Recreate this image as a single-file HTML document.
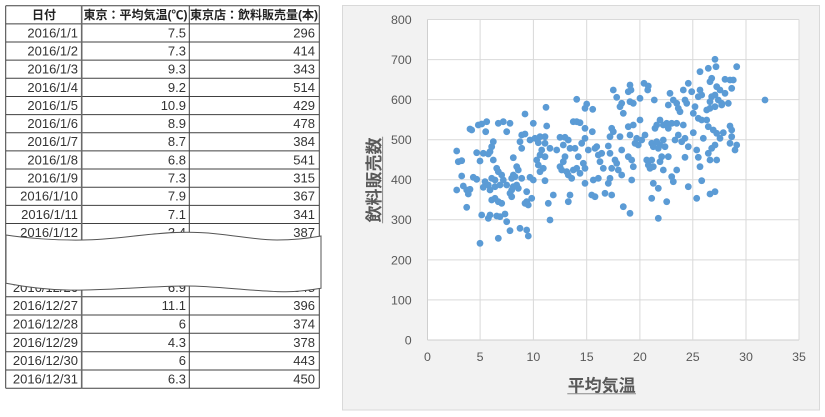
<!DOCTYPE html>
<html><head><meta charset="utf-8">
<style>
html,body{margin:0;padding:0;background:#fff;}
svg{display:block;}
.t{font-family:"Liberation Sans","Noto Sans CJK JP",sans-serif;font-size:13px;fill:#333;}
.h{font-family:"Liberation Sans","Noto Sans CJK JP",sans-serif;font-size:12px;font-weight:bold;fill:#222;}
.ax{font-family:"Liberation Sans",sans-serif;font-size:12.4px;fill:#595959;}
.ttl{font-family:"Liberation Sans","Noto Sans CJK JP",sans-serif;font-size:17px;font-weight:bold;fill:#595959;}
</style></head><body>
<svg width="825" height="417" viewBox="0 0 825 417" xmlns="http://www.w3.org/2000/svg">
<!-- TABLE -->
<g stroke="#404040" stroke-width="1" fill="none">
<line x1="5.7" y1="5.7" x2="319.3" y2="5.7"/>
<line x1="5.7" y1="23.85" x2="319.3" y2="23.85"/>
<line x1="5.7" y1="42" x2="319.3" y2="42"/>
<line x1="5.7" y1="60.15" x2="319.3" y2="60.15"/>
<line x1="5.7" y1="78.3" x2="319.3" y2="78.3"/>
<line x1="5.7" y1="96.45" x2="319.3" y2="96.45"/>
<line x1="5.7" y1="114.6" x2="319.3" y2="114.6"/>
<line x1="5.7" y1="132.75" x2="319.3" y2="132.75"/>
<line x1="5.7" y1="150.9" x2="319.3" y2="150.9"/>
<line x1="5.7" y1="169.05" x2="319.3" y2="169.05"/>
<line x1="5.7" y1="187.2" x2="319.3" y2="187.2"/>
<line x1="5.7" y1="205.35" x2="319.3" y2="205.35"/>
<line x1="5.7" y1="223.5" x2="319.3" y2="223.5"/>
<line x1="5.7" y1="241.6" x2="319.3" y2="241.6"/>
<line x1="5.7" y1="278.4" x2="319.3" y2="278.4"/>
<line x1="5.7" y1="296.7" x2="319.3" y2="296.7"/>
<line x1="5.7" y1="315" x2="319.3" y2="315"/>
<line x1="5.7" y1="333.3" x2="319.3" y2="333.3"/>
<line x1="5.7" y1="351.7" x2="319.3" y2="351.7"/>
<line x1="5.7" y1="370" x2="319.3" y2="370"/>
<line x1="5.7" y1="388.3" x2="319.3" y2="388.3"/>
<line x1="5.7" y1="5.7" x2="5.7" y2="388.3"/>
<line x1="189.3" y1="5.7" x2="189.3" y2="388.3"/>
<line x1="319.3" y1="5.7" x2="319.3" y2="388.3"/>
</g>
<line x1="81.7" y1="5.7" x2="81.7" y2="388.3" stroke="#6a6a6a" stroke-width="1.6"/>
<text class="h" x="44" y="19" text-anchor="middle">日付</text>
<text class="h" x="135.5" y="19" text-anchor="middle">東京：平均気温(℃)</text>
<text class="h" x="254" y="19" text-anchor="middle">東京店：飲料販売量(本)</text>
<g class="t">
<text x="78" y="37.3" text-anchor="end">2016/1/1</text><text x="186" y="37.3" text-anchor="end">7.5</text><text x="315" y="37.3" text-anchor="end">296</text>
<text x="78" y="55.5" text-anchor="end">2016/1/2</text><text x="186" y="55.5" text-anchor="end">7.3</text><text x="315" y="55.5" text-anchor="end">414</text>
<text x="78" y="73.6" text-anchor="end">2016/1/3</text><text x="186" y="73.6" text-anchor="end">9.3</text><text x="315" y="73.6" text-anchor="end">343</text>
<text x="78" y="91.8" text-anchor="end">2016/1/4</text><text x="186" y="91.8" text-anchor="end">9.2</text><text x="315" y="91.8" text-anchor="end">514</text>
<text x="78" y="109.9" text-anchor="end">2016/1/5</text><text x="186" y="109.9" text-anchor="end">10.9</text><text x="315" y="109.9" text-anchor="end">429</text>
<text x="78" y="128.1" text-anchor="end">2016/1/6</text><text x="186" y="128.1" text-anchor="end">8.9</text><text x="315" y="128.1" text-anchor="end">478</text>
<text x="78" y="146.2" text-anchor="end">2016/1/7</text><text x="186" y="146.2" text-anchor="end">8.7</text><text x="315" y="146.2" text-anchor="end">384</text>
<text x="78" y="164.4" text-anchor="end">2016/1/8</text><text x="186" y="164.4" text-anchor="end">6.8</text><text x="315" y="164.4" text-anchor="end">541</text>
<text x="78" y="182.5" text-anchor="end">2016/1/9</text><text x="186" y="182.5" text-anchor="end">7.3</text><text x="315" y="182.5" text-anchor="end">315</text>
<text x="78" y="200.7" text-anchor="end">2016/1/10</text><text x="186" y="200.7" text-anchor="end">7.9</text><text x="315" y="200.7" text-anchor="end">367</text>
<text x="78" y="218.8" text-anchor="end">2016/1/11</text><text x="186" y="218.8" text-anchor="end">7.1</text><text x="315" y="218.8" text-anchor="end">341</text>
<text x="78" y="237" text-anchor="end">2016/1/12</text><text x="186" y="237" text-anchor="end">3.4</text><text x="315" y="237" text-anchor="end">387</text>
<text x="78" y="291.9" text-anchor="end">2016/12/26</text><text x="186" y="291.9" text-anchor="end">6.9</text><text x="315" y="291.9" text-anchor="end">348</text>
<text x="78" y="310.2" text-anchor="end">2016/12/27</text><text x="186" y="310.2" text-anchor="end">11.1</text><text x="315" y="310.2" text-anchor="end">396</text>
<text x="78" y="328.5" text-anchor="end">2016/12/28</text><text x="186" y="328.5" text-anchor="end">6</text><text x="315" y="328.5" text-anchor="end">374</text>
<text x="78" y="346.9" text-anchor="end">2016/12/29</text><text x="186" y="346.9" text-anchor="end">4.3</text><text x="315" y="346.9" text-anchor="end">378</text>
<text x="78" y="365.2" text-anchor="end">2016/12/30</text><text x="186" y="365.2" text-anchor="end">6</text><text x="315" y="365.2" text-anchor="end">443</text>
<text x="78" y="383.5" text-anchor="end">2016/12/31</text><text x="186" y="383.5" text-anchor="end">6.3</text><text x="315" y="383.5" text-anchor="end">450</text>
</g>
<path d="M6,235 C25,238 55,240.5 83,240 C120,239.5 150,232.3 187,232.3 C225,232.3 250,240 277,240 C295,240 310,238 321,236 L321,288.3 C305,291 295,292 283,291.7 C250,291 215,286 187,286 C150,286 100,291 67,290 C40,289.5 20,286 6,283.3 Z" fill="#fff" stroke="#555" stroke-width="1"/>

<!-- CHART -->
<rect x="342.5" y="5.5" width="477" height="404.5" fill="#f2f2f2" stroke="#d9d9d9"/>
<rect x="427.5" y="19.5" width="371.5" height="320.5" fill="#fff"/>
<g stroke="#d9d9d9" stroke-width="1">
<line x1="427.5" y1="19.5" x2="799" y2="19.5"/>
<line x1="427.5" y1="59.6" x2="799" y2="59.6"/>
<line x1="427.5" y1="99.6" x2="799" y2="99.6"/>
<line x1="427.5" y1="139.7" x2="799" y2="139.7"/>
<line x1="427.5" y1="179.8" x2="799" y2="179.8"/>
<line x1="427.5" y1="219.8" x2="799" y2="219.8"/>
<line x1="427.5" y1="259.9" x2="799" y2="259.9"/>
<line x1="427.5" y1="299.9" x2="799" y2="299.9"/>
<line x1="427.5" y1="340" x2="799" y2="340" stroke="#cfcfcf"/>
<line x1="427.5" y1="19.5" x2="427.5" y2="340" stroke="#cfcfcf"/>
<line x1="480.1" y1="19.5" x2="480.1" y2="340"/>
<line x1="533.4" y1="19.5" x2="533.4" y2="340"/>
<line x1="586.7" y1="19.5" x2="586.7" y2="340"/>
<line x1="639.9" y1="19.5" x2="639.9" y2="340"/>
<line x1="692.8" y1="19.5" x2="692.8" y2="340"/>
<line x1="746" y1="19.5" x2="746" y2="340"/>
<line x1="799" y1="19.5" x2="799" y2="340"/>
</g>
<g class="ax" text-anchor="end">
<text x="411.7" y="24">800</text>
<text x="411.7" y="64">700</text>
<text x="411.7" y="104">600</text>
<text x="411.7" y="144">500</text>
<text x="411.7" y="184.2">400</text>
<text x="411.7" y="224.2">300</text>
<text x="411.7" y="264.3">200</text>
<text x="411.7" y="304.3">100</text>
<text x="411.7" y="344.4">0</text>
</g>
<g class="ax" text-anchor="middle">
<text x="427.5" y="361">0</text>
<text x="480.1" y="361">5</text>
<text x="533.4" y="361">10</text>
<text x="586.7" y="361">15</text>
<text x="639.9" y="361">20</text>
<text x="692.8" y="361">25</text>
<text x="746" y="361">30</text>
<text x="799" y="361">35</text>
</g>
<text class="ttl" x="601.7" y="391.5" text-anchor="middle">平均気温</text>
<line x1="567.3" y1="393.8" x2="636" y2="393.8" stroke="#8a8a8a" stroke-width="1"/>
<text class="ttl" transform="translate(380,180) rotate(-90)" text-anchor="middle">飲料販売数</text>
<line x1="382.6" y1="136.7" x2="382.6" y2="223.3" stroke="#8a8a8a" stroke-width="1"/>

<g fill="#5b9bd5">
<circle cx="546" cy="107.3" r="3.4"/><circle cx="525" cy="114" r="3.4"/><circle cx="470" cy="129" r="3.4"/><circle cx="471.7" cy="130" r="3.4"/><circle cx="478.3" cy="125" r="3.4"/><circle cx="481.7" cy="124" r="3.4"/><circle cx="486.7" cy="121.7" r="3.4"/><circle cx="485.7" cy="131.7" r="3.4"/><circle cx="498.3" cy="123.3" r="3.4"/><circle cx="503.3" cy="121.7" r="3.4"/><circle cx="510" cy="123.3" r="3.4"/><circle cx="506.7" cy="131.7" r="3.4"/><circle cx="533.3" cy="123.3" r="3.4"/><circle cx="546.7" cy="126" r="3.4"/><circle cx="521.7" cy="135" r="3.4"/><circle cx="525" cy="134" r="3.4"/><circle cx="520" cy="141.7" r="3.4"/><circle cx="530" cy="140" r="3.4"/><circle cx="535" cy="138.3" r="3.4"/><circle cx="540" cy="136.7" r="3.4"/><circle cx="545" cy="136.7" r="3.4"/><circle cx="538.3" cy="142.7" r="3.4"/><circle cx="545" cy="143.3" r="3.4"/><circle cx="493.3" cy="141.7" r="3.4"/><circle cx="491.7" cy="146.7" r="3.4"/><circle cx="490" cy="151.7" r="3.4"/><circle cx="521.7" cy="148.3" r="3.4"/><circle cx="541.7" cy="150" r="3.4"/><circle cx="540" cy="155" r="3.4"/><circle cx="536.7" cy="160" r="3.4"/><circle cx="545" cy="156.7" r="3.4"/><circle cx="456.7" cy="151" r="3.4"/><circle cx="476.7" cy="152.7" r="3.4"/><circle cx="483.3" cy="153.3" r="3.4"/><circle cx="488.3" cy="154" r="3.4"/><circle cx="458.3" cy="161.7" r="3.4"/><circle cx="461.7" cy="160.7" r="3.4"/><circle cx="480" cy="161" r="3.4"/><circle cx="493.3" cy="160" r="3.4"/><circle cx="513.3" cy="157.7" r="3.4"/><circle cx="538.3" cy="165" r="3.4"/><circle cx="543.3" cy="168.3" r="3.4"/><circle cx="540" cy="171.7" r="3.4"/><circle cx="496.7" cy="168.3" r="3.4"/><circle cx="498.3" cy="171.7" r="3.4"/><circle cx="516.7" cy="166.7" r="3.4"/><circle cx="518.3" cy="170" r="3.4"/><circle cx="501.7" cy="175" r="3.4"/><circle cx="513.3" cy="175" r="3.4"/><circle cx="461.7" cy="176" r="3.4"/><circle cx="473.3" cy="177.3" r="3.4"/><circle cx="476.7" cy="179.3" r="3.4"/><circle cx="491.7" cy="178.3" r="3.4"/><circle cx="495" cy="180" r="3.4"/><circle cx="503.3" cy="180" r="3.4"/><circle cx="511.7" cy="178.3" r="3.4"/><circle cx="515" cy="176.7" r="3.4"/><circle cx="521.7" cy="178.3" r="3.4"/><circle cx="530" cy="177.3" r="3.4"/><circle cx="533.3" cy="180" r="3.4"/><circle cx="545" cy="180.7" r="3.4"/><circle cx="456.7" cy="190" r="3.4"/><circle cx="463.3" cy="186" r="3.4"/><circle cx="466.7" cy="190" r="3.4"/><circle cx="470" cy="189.3" r="3.4"/><circle cx="468.3" cy="194" r="3.4"/><circle cx="485" cy="181.7" r="3.4"/><circle cx="483.3" cy="187.3" r="3.4"/><circle cx="488.3" cy="185" r="3.4"/><circle cx="490" cy="190" r="3.4"/><circle cx="495" cy="186.7" r="3.4"/><circle cx="500" cy="185" r="3.4"/><circle cx="506.7" cy="185" r="3.4"/><circle cx="511.7" cy="190" r="3.4"/><circle cx="513.3" cy="186.7" r="3.4"/><circle cx="516.7" cy="185" r="3.4"/><circle cx="518.3" cy="188.3" r="3.4"/><circle cx="526.7" cy="191.7" r="3.4"/><circle cx="511.7" cy="196.7" r="3.4"/><circle cx="510" cy="193.3" r="3.4"/><circle cx="491.7" cy="200" r="3.4"/><circle cx="495" cy="198.3" r="3.4"/><circle cx="498.3" cy="201.7" r="3.4"/><circle cx="501.7" cy="203.3" r="3.4"/><circle cx="526.7" cy="201.7" r="3.4"/><circle cx="531.7" cy="198.3" r="3.4"/><circle cx="525" cy="203.3" r="3.4"/><circle cx="528.3" cy="205" r="3.4"/><circle cx="548.3" cy="203.3" r="3.4"/><circle cx="466.7" cy="207.3" r="3.4"/><circle cx="481.7" cy="215" r="3.4"/><circle cx="490" cy="215" r="3.4"/><circle cx="488.3" cy="218.3" r="3.4"/><circle cx="496.7" cy="216" r="3.4"/><circle cx="500" cy="216.7" r="3.4"/><circle cx="505" cy="214" r="3.4"/><circle cx="506.7" cy="221.7" r="3.4"/><circle cx="510" cy="230.7" r="3.4"/><circle cx="520" cy="228.3" r="3.4"/><circle cx="526.7" cy="230" r="3.4"/><circle cx="528.3" cy="236" r="3.4"/><circle cx="498.3" cy="238.3" r="3.4"/><circle cx="480" cy="243.3" r="3.4"/>
<circle cx="613.3" cy="90" r="3.4"/><circle cx="630" cy="85" r="3.4"/><circle cx="631" cy="90" r="3.4"/><circle cx="628.3" cy="91.7" r="3.4"/><circle cx="644" cy="83.3" r="3.4"/><circle cx="647.7" cy="90" r="3.4"/><circle cx="616.7" cy="97.3" r="3.4"/><circle cx="621.7" cy="103.3" r="3.4"/><circle cx="620" cy="106.7" r="3.4"/><circle cx="623.3" cy="113.3" r="3.4"/><circle cx="630" cy="101.7" r="3.4"/><circle cx="633.3" cy="103.3" r="3.4"/><circle cx="640" cy="98.3" r="3.4"/><circle cx="576.7" cy="99.3" r="3.4"/><circle cx="586.7" cy="104" r="3.4"/><circle cx="585" cy="108.3" r="3.4"/><circle cx="592.7" cy="109.3" r="3.4"/><circle cx="573.3" cy="121.7" r="3.4"/><circle cx="576.7" cy="121.7" r="3.4"/><circle cx="580" cy="122.7" r="3.4"/><circle cx="585" cy="128.3" r="3.4"/><circle cx="592.3" cy="131.7" r="3.4"/><circle cx="611.7" cy="128.3" r="3.4"/><circle cx="613.3" cy="131.7" r="3.4"/><circle cx="610" cy="136.7" r="3.4"/><circle cx="620" cy="136.7" r="3.4"/><circle cx="628.3" cy="126.7" r="3.4"/><circle cx="633.3" cy="125" r="3.4"/><circle cx="640" cy="120" r="3.4"/><circle cx="630" cy="135" r="3.4"/><circle cx="636.7" cy="138.3" r="3.4"/><circle cx="641.7" cy="140" r="3.4"/><circle cx="645" cy="135" r="3.4"/><circle cx="638.3" cy="145" r="3.4"/><circle cx="635" cy="143.3" r="3.4"/><circle cx="550" cy="148.3" r="3.4"/><circle cx="560" cy="137.3" r="3.4"/><circle cx="565" cy="137.3" r="3.4"/><circle cx="568.3" cy="140" r="3.4"/><circle cx="563.3" cy="145" r="3.4"/><circle cx="556.7" cy="150" r="3.4"/><circle cx="570" cy="148.3" r="3.4"/><circle cx="575" cy="148.3" r="3.4"/><circle cx="581.7" cy="143.3" r="3.4"/><circle cx="585" cy="138.3" r="3.4"/><circle cx="588.3" cy="150" r="3.4"/><circle cx="595" cy="148.3" r="3.4"/><circle cx="596.7" cy="146.7" r="3.4"/><circle cx="598.3" cy="155" r="3.4"/><circle cx="601.7" cy="153.3" r="3.4"/><circle cx="608.3" cy="146" r="3.4"/><circle cx="610" cy="153.3" r="3.4"/><circle cx="621.7" cy="150" r="3.4"/><circle cx="628.3" cy="156.7" r="3.4"/><circle cx="631.7" cy="160" r="3.4"/><circle cx="633.3" cy="166.7" r="3.4"/><circle cx="646.7" cy="160" r="3.4"/><circle cx="650" cy="168.3" r="3.4"/><circle cx="565" cy="156.7" r="3.4"/><circle cx="563.3" cy="161.7" r="3.4"/><circle cx="560" cy="166.7" r="3.4"/><circle cx="561.7" cy="170" r="3.4"/><circle cx="566.7" cy="171.7" r="3.4"/><circle cx="568.3" cy="175" r="3.4"/><circle cx="571.7" cy="178.3" r="3.4"/><circle cx="573.3" cy="170" r="3.4"/><circle cx="576.7" cy="168.3" r="3.4"/><circle cx="578.3" cy="156.7" r="3.4"/><circle cx="583.3" cy="163.3" r="3.4"/><circle cx="585" cy="168.3" r="3.4"/><circle cx="580" cy="173.3" r="3.4"/><circle cx="600" cy="161.7" r="3.4"/><circle cx="603.3" cy="168.3" r="3.4"/><circle cx="615" cy="160" r="3.4"/><circle cx="616.7" cy="163.3" r="3.4"/><circle cx="618.3" cy="170" r="3.4"/><circle cx="621.7" cy="175" r="3.4"/><circle cx="611.7" cy="168.3" r="3.4"/><circle cx="585" cy="183.3" r="3.4"/><circle cx="593.3" cy="180" r="3.4"/><circle cx="598.3" cy="178.3" r="3.4"/><circle cx="610" cy="178.3" r="3.4"/><circle cx="608.3" cy="183.3" r="3.4"/><circle cx="631.7" cy="180" r="3.4"/><circle cx="553.3" cy="195" r="3.4"/><circle cx="570" cy="195" r="3.4"/><circle cx="568.3" cy="201.7" r="3.4"/><circle cx="591.7" cy="195" r="3.4"/><circle cx="595" cy="196.7" r="3.4"/><circle cx="605" cy="193.3" r="3.4"/><circle cx="611.7" cy="195" r="3.4"/><circle cx="623.3" cy="206.7" r="3.4"/><circle cx="630" cy="213.3" r="3.4"/><circle cx="550" cy="220" r="3.4"/>
<circle cx="715" cy="59.3" r="3.4"/><circle cx="708.3" cy="68.3" r="3.4"/><circle cx="716" cy="66.7" r="3.4"/><circle cx="700" cy="71.7" r="3.4"/><circle cx="736.7" cy="66.7" r="3.4"/><circle cx="711.7" cy="78.3" r="3.4"/><circle cx="710" cy="81.7" r="3.4"/><circle cx="725" cy="79.3" r="3.4"/><circle cx="730" cy="80" r="3.4"/><circle cx="733.3" cy="80" r="3.4"/><circle cx="716.7" cy="86.7" r="3.4"/><circle cx="720" cy="90" r="3.4"/><circle cx="725" cy="93.3" r="3.4"/><circle cx="731.7" cy="88.3" r="3.4"/><circle cx="688.3" cy="83.3" r="3.4"/><circle cx="683.3" cy="90" r="3.4"/><circle cx="691.7" cy="91.7" r="3.4"/><circle cx="700" cy="90" r="3.4"/><circle cx="701.7" cy="95" r="3.4"/><circle cx="698.3" cy="96.7" r="3.4"/><circle cx="670" cy="93.3" r="3.4"/><circle cx="673.3" cy="100" r="3.4"/><circle cx="668.3" cy="105" r="3.4"/><circle cx="676.7" cy="103.3" r="3.4"/><circle cx="678.3" cy="108.3" r="3.4"/><circle cx="680" cy="111.7" r="3.4"/><circle cx="685" cy="100" r="3.4"/><circle cx="686.7" cy="103.3" r="3.4"/><circle cx="648.3" cy="86" r="3.4"/><circle cx="654.3" cy="100" r="3.4"/><circle cx="711.7" cy="96.7" r="3.4"/><circle cx="715" cy="95" r="3.4"/><circle cx="710" cy="101.7" r="3.4"/><circle cx="718.3" cy="100" r="3.4"/><circle cx="721.7" cy="103.3" r="3.4"/><circle cx="728.3" cy="103.3" r="3.4"/><circle cx="706.7" cy="110" r="3.4"/><circle cx="710" cy="108.3" r="3.4"/><circle cx="715" cy="106.7" r="3.4"/><circle cx="721.7" cy="105" r="3.4"/><circle cx="695" cy="106.7" r="3.4"/><circle cx="693.3" cy="113.3" r="3.4"/><circle cx="698.3" cy="118.3" r="3.4"/><circle cx="701.7" cy="120" r="3.4"/><circle cx="706.7" cy="120" r="3.4"/><circle cx="660" cy="120" r="3.4"/><circle cx="656.7" cy="125" r="3.4"/><circle cx="655" cy="128.3" r="3.4"/><circle cx="663.3" cy="125" r="3.4"/><circle cx="666.7" cy="123.3" r="3.4"/><circle cx="668.3" cy="128.3" r="3.4"/><circle cx="671.7" cy="123.3" r="3.4"/><circle cx="676.7" cy="123.3" r="3.4"/><circle cx="683.3" cy="125" r="3.4"/><circle cx="708.3" cy="126.7" r="3.4"/><circle cx="713.3" cy="130" r="3.4"/><circle cx="716.7" cy="133.3" r="3.4"/><circle cx="723.3" cy="132.7" r="3.4"/><circle cx="730" cy="126" r="3.4"/><circle cx="731.7" cy="130" r="3.4"/><circle cx="731.7" cy="136.7" r="3.4"/><circle cx="730" cy="143.3" r="3.4"/><circle cx="736.7" cy="145" r="3.4"/><circle cx="735" cy="150" r="3.4"/><circle cx="720" cy="138.3" r="3.4"/><circle cx="715" cy="145" r="3.4"/><circle cx="711.7" cy="148.3" r="3.4"/><circle cx="708.3" cy="153.3" r="3.4"/><circle cx="710" cy="160" r="3.4"/><circle cx="716.7" cy="160" r="3.4"/><circle cx="693.3" cy="132.7" r="3.4"/><circle cx="685" cy="138.3" r="3.4"/><circle cx="678.3" cy="135" r="3.4"/><circle cx="675" cy="140" r="3.4"/><circle cx="681.7" cy="141.7" r="3.4"/><circle cx="688.3" cy="146.7" r="3.4"/><circle cx="703.3" cy="138.3" r="3.4"/><circle cx="651.7" cy="143.3" r="3.4"/><circle cx="656.7" cy="141.7" r="3.4"/><circle cx="660" cy="145" r="3.4"/><circle cx="663.3" cy="140" r="3.4"/><circle cx="665" cy="146.7" r="3.4"/><circle cx="658.3" cy="148.3" r="3.4"/><circle cx="653.3" cy="146.7" r="3.4"/><circle cx="651.7" cy="160" r="3.4"/><circle cx="648.3" cy="165" r="3.4"/><circle cx="653.3" cy="166.7" r="3.4"/><circle cx="661.7" cy="156.7" r="3.4"/><circle cx="668.3" cy="156.7" r="3.4"/><circle cx="660" cy="161.7" r="3.4"/><circle cx="685" cy="157.3" r="3.4"/><circle cx="696.7" cy="150" r="3.4"/><circle cx="698.3" cy="157.3" r="3.4"/><circle cx="700" cy="166.7" r="3.4"/><circle cx="663.3" cy="170" r="3.4"/><circle cx="676.7" cy="170" r="3.4"/><circle cx="671.7" cy="176.7" r="3.4"/><circle cx="673.3" cy="181.7" r="3.4"/><circle cx="653.3" cy="183.3" r="3.4"/><circle cx="658.3" cy="188.3" r="3.4"/><circle cx="688.3" cy="186.7" r="3.4"/><circle cx="701.7" cy="180.7" r="3.4"/><circle cx="710" cy="194" r="3.4"/><circle cx="715" cy="191.7" r="3.4"/><circle cx="651.7" cy="198.3" r="3.4"/><circle cx="666.7" cy="201.7" r="3.4"/><circle cx="696.7" cy="198.3" r="3.4"/><circle cx="765" cy="100" r="3.4"/><circle cx="658.3" cy="218.3" r="3.4"/>
</g>
</svg>
</body></html>
